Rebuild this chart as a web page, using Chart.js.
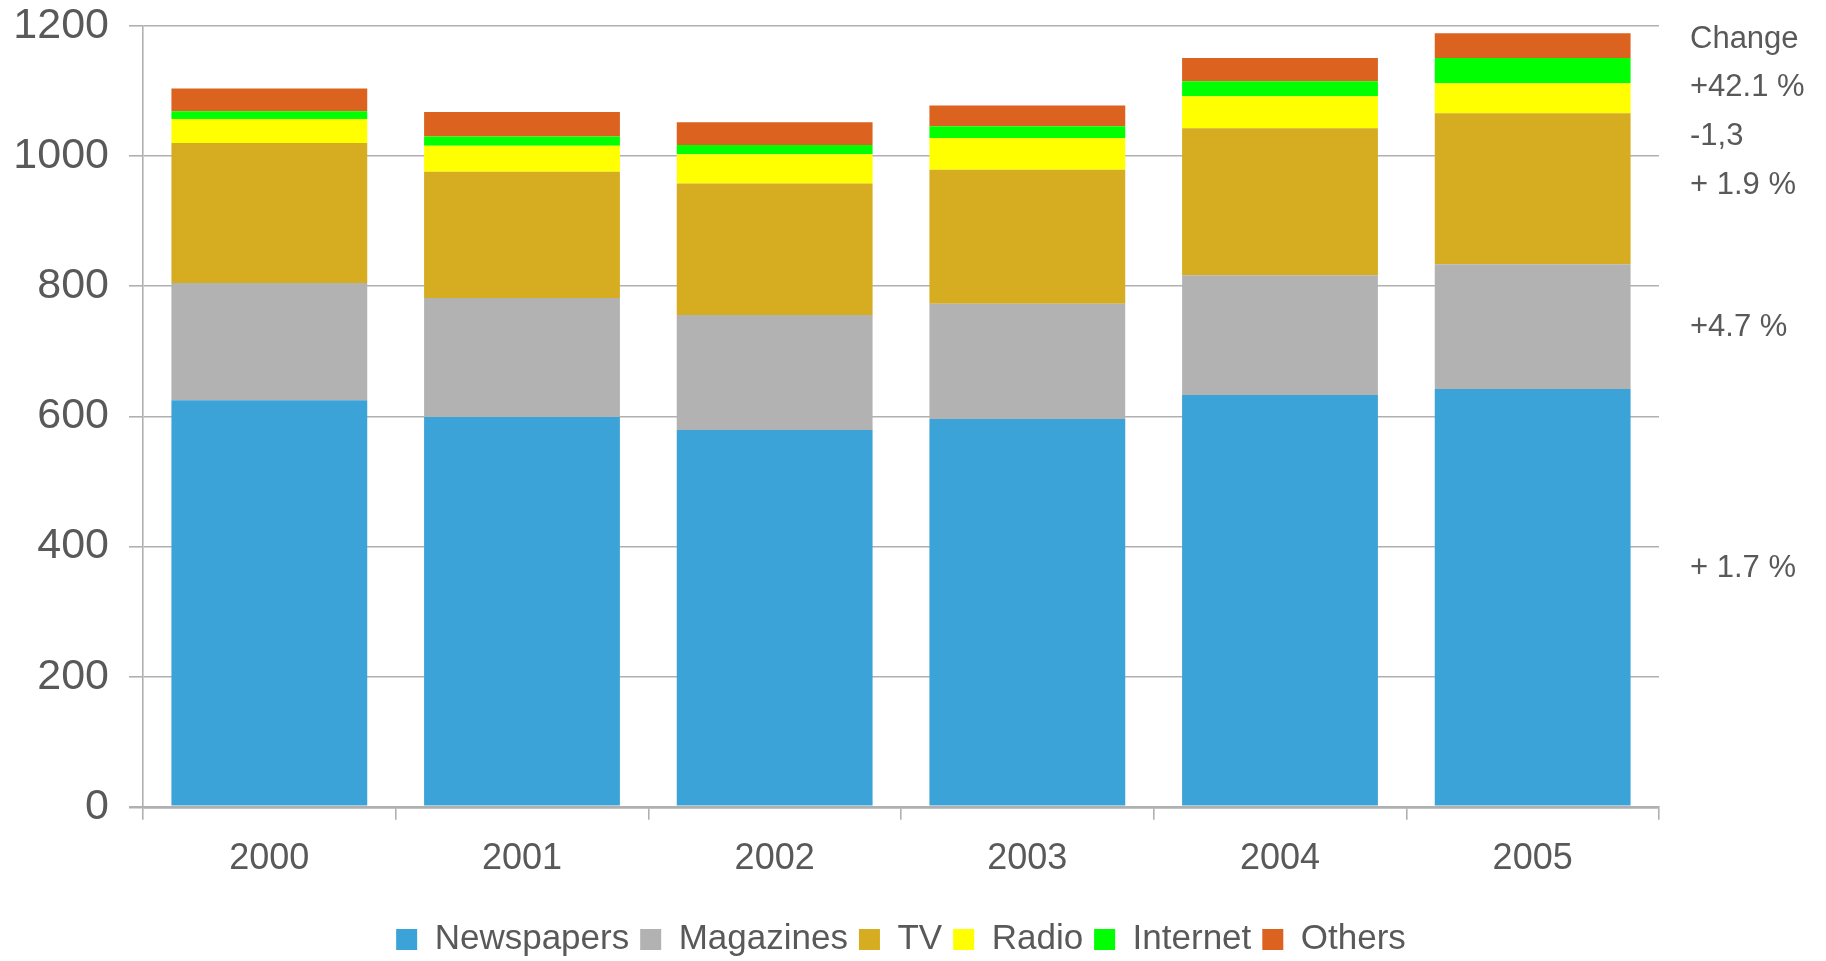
<!DOCTYPE html>
<html>
<head>
<meta charset="utf-8">
<script src="https://cdn.jsdelivr.net/npm/chart.js@4.4.1/dist/chart.umd.min.js"></script>
<style>
  html, body { margin: 0; padding: 0; background: #fff; }
  #wrap { width: 1826px; height: 961px; }
</style>
</head>
<body>
<div id="wrap"><canvas id="chart"></canvas></div>
<script>
const years = ["2000", "2001", "2002", "2003", "2004", "2005"];
const newspapers = [625, 599, 579, 596, 633, 642];
const magazines = [180, 183, 177, 177, 184, 192];
const tv = [215, 194, 202, 206, 226, 232];
const radio = [37, 40, 45, 49, 49, 46];
const internet = [12, 14, 14, 18, 23, 39];
const others = [35, 38, 35, 32, 36, 38];

const yMax = 1200;
const yStep = 200;

// notes on the right, anchored at these y values
const changeLabels = ["Change", "+42.1 %", "-1,3", "+ 1.9 %", "+4.7 %", "+ 1.7 %"];
const changeAt = [1179, 1106, 1031, 955, 736, 366];

const textColor = "#595959";
const lineColor = "#b0b0b0";
const fontFamily = '"Liberation Sans", Arial, sans-serif';

Chart.defaults.font.family = fontFamily;
Chart.defaults.color = textColor;

const changeNotes = {
    id: "changeNotes",
    afterDraw(chart) {
        const ctx = chart.ctx;
        const y = chart.scales.y;
        ctx.save();
        ctx.font = "31px " + fontFamily;
        ctx.fillStyle = textColor;
        ctx.textAlign = "left";
        ctx.textBaseline = "middle";
        changeLabels.forEach(function(label, i) {
            ctx.fillText(label, chart.chartArea.right + 31, y.getPixelForValue(changeAt[i]));
        });
        ctx.restore();
    }
};

function series(label, data, color) {
    return {
        label: label,
        data: data,
        backgroundColor: color,
        borderWidth: 0,
        categoryPercentage: 1,
        barPercentage: 0.775
    };
}

new Chart(document.getElementById("chart"), {
    type: "bar",
    data: {
        labels: years,
        datasets: [
            series("Newspapers", newspapers, "#3ca3d8"),
            series("Magazines", magazines, "#b2b2b2"),
            series("TV", tv, "#d6ac20"),
            series("Radio", radio, "#ffff00"),
            series("Internet", internet, "#00ff00"),
            series("Others", others, "#dc6220")
        ]
    },
    options: {
        responsive: true,
        maintainAspectRatio: false,
        animation: false,
        layout: {
            padding: { left: 13, right: 37, top: 0, bottom: -6 }
        },
        plugins: {
            tooltip: { enabled: false },
            legend: {
                position: "bottom",
                labels: {
                    boxWidth: 21,
                    boxHeight: 21,
                    padding: 11,
                    color: textColor,
                    font: { size: 35 }
                }
            }
        },
        scales: {
            x: {
                stacked: true,
                grid: {
                    offset: true,
                    drawOnChartArea: true,
                    color: function(c) { return c.index === years.length ? lineColor : "rgba(0,0,0,0)"; },
                    tickColor: lineColor,
                    tickLength: 13,
                    lineWidth: 1.6
                },
                border: { color: lineColor, width: 2.5 },
                ticks: {
                    padding: 18,
                    color: textColor,
                    font: { size: 36 }
                },
                afterFit: function(scale) { scale.height += 12; }
            },
            y: {
                stacked: true,
                min: 0,
                max: yMax,
                grid: {
                    color: lineColor,
                    tickColor: lineColor,
                    tickLength: 14,
                    lineWidth: function(c) { return c.index === 0 ? 2.5 : 1.6; }
                },
                border: { color: lineColor, width: 1.6 },
                ticks: {
                    stepSize: yStep,
                    padding: 20,
                    color: textColor,
                    font: { size: 43 },
                    callback: function(v) { return String(v); }
                },
                afterFit: function(scale) {
                    scale.width = 130;
                    scale.paddingTop = 26;
                    scale.paddingBottom = 26;
                }
            },
            notes: {
                type: "linear",
                position: "right",
                display: true,
                grid: { display: false },
                border: { display: false },
                ticks: { display: false },
                afterFit: function(scale) { scale.width = 130; }
            }
        }
    },
    plugins: [changeNotes]
});
</script>
</body>
</html>
